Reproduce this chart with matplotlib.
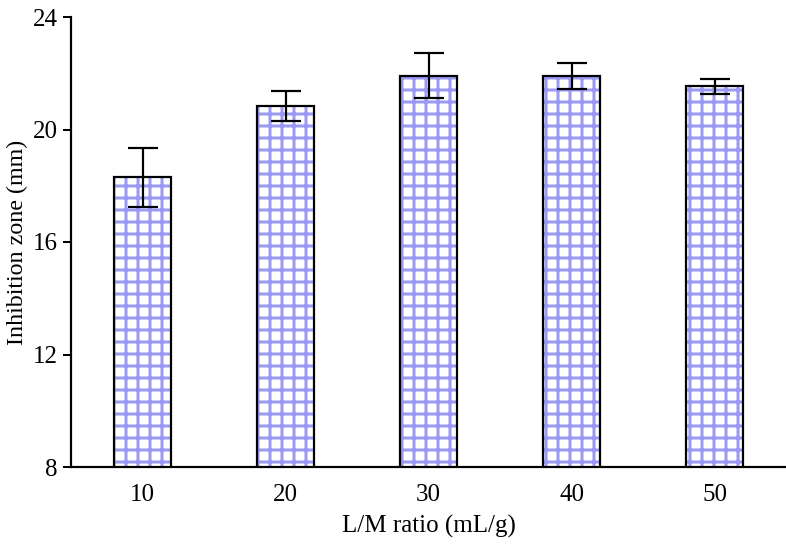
import matplotlib
matplotlib.use("Agg")
import matplotlib.pyplot as plt

categories = ["10", "20", "30", "40", "50"]
values = [18.3, 20.85, 21.92, 21.9, 21.53]
errors = [1.04, 0.53, 0.8, 0.45, 0.27]
yticks = [8, 12, 16, 20, 24]

plt.rcParams['font.family'] = ['Liberation Serif', 'DejaVu Serif']
plt.rcParams['hatch.linewidth'] = 1.5

DPI = 144
fig = plt.figure(figsize=(786 / DPI, 546 / DPI), dpi=DPI)
ax = fig.add_axes([71 / 786, 1 - 467 / 546, 1 - 71 / 786, (467 - 17) / 546])

x = list(range(len(categories)))
ax.bar(x, values, width=0.4, bottom=0, color='white', edgecolor='#9a9af5',
       hatch='++', linewidth=0, zorder=2)
ax.bar(x, values, width=0.4, fill=False, edgecolor='black', linewidth=1.1, zorder=3)
ax.errorbar(x, values, yerr=errors, fmt='none', ecolor='black', elinewidth=1.1,
            capsize=7.5, capthick=1.1, zorder=4)

ax.set_xlim(-0.5, 4.5)
ax.set_ylim(8, 24)
ax.set_yticks(yticks)
ax.set_xticks(x)
ax.set_xticklabels(categories)
ax.tick_params(axis='x', length=0, pad=8.5, labelsize=12.5)
ax.tick_params(axis='y', direction='out', length=4, width=1, pad=2.5, labelsize=12.5)
for s in ['top', 'right']:
    ax.spines[s].set_visible(False)
for s in ['left', 'bottom']:
    ax.spines[s].set_linewidth(1.1)

ax.set_xlabel("L/M ratio (mL/g)", fontsize=12.5, labelpad=4.5)
ax.set_ylabel("Inhibition zone (mm)", fontsize=12, labelpad=2.5)

fig.savefig("out.png", dpi=DPI)
